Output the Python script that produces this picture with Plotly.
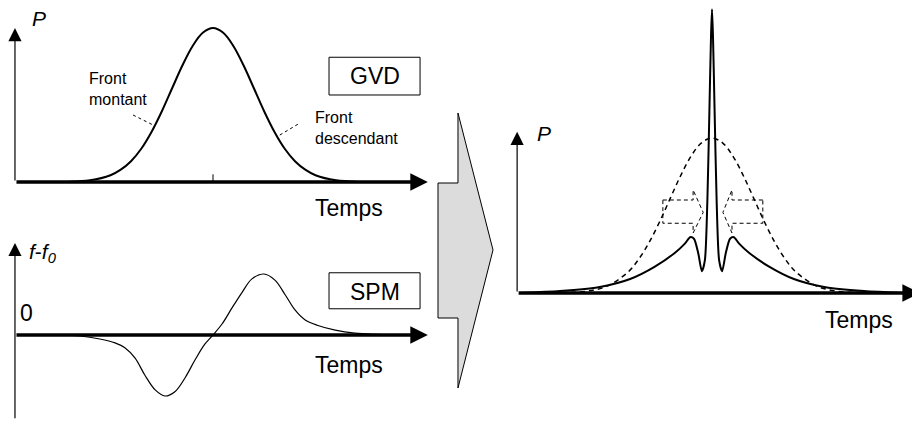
import plotly.graph_objects as go

# --- panel 1 : input pulse (P vs Temps) ---
t_pulse = [-3.5, -3.0, -2.5, -2.25, -2.0, -1.75, -1.5, -1.25, -1.0, -0.75, -0.5, -0.25, 0.0,
           0.25, 0.5, 0.75, 1.0, 1.25, 1.5, 1.75, 2.0, 2.25, 2.5, 3.0, 3.5]
p_pulse = [0.002, 0.011, 0.044, 0.080, 0.135, 0.216, 0.325, 0.458, 0.607, 0.755, 0.882, 0.969, 1.0,
           0.969, 0.882, 0.755, 0.607, 0.458, 0.325, 0.216, 0.135, 0.080, 0.044, 0.011, 0.002]

# --- panel 2 : SPM chirp (f - f0 vs Temps) ---
t_chirp = [-3.73, -3.24, -2.76, -2.39, -2.15, -1.90, -1.66, -1.41, -1.17, -0.93, -0.68, -0.44, -0.20, 0.0,
           0.22, 0.46, 0.71, 0.95, 1.24, 1.51, 1.76, 2.0, 2.24, 2.54, 2.98, 3.46, 4.0, 4.56]
f_chirp = [0.0, -0.016, -0.066, -0.13, -0.21, -0.38, -0.66, -0.90, -1.0, -0.93, -0.70, -0.41, -0.15, 0.0,
           0.18, 0.44, 0.70, 0.92, 1.0, 0.90, 0.66, 0.41, 0.25, 0.16, 0.08, 0.03, 0.01, 0.0]

# --- panel 3 : compressed pulse (solid) and original pulse (dashed) ---
t_orig = [-4.0, -3.5, -3.0, -2.5, -2.0, -1.75, -1.5, -1.25, -1.0, -0.75, -0.5, -0.25, 0.0,
          0.25, 0.5, 0.75, 1.0, 1.25, 1.5, 1.75, 2.0, 2.5, 3.0, 3.5, 4.0]
p_orig = [0.0003, 0.002, 0.011, 0.044, 0.135, 0.216, 0.325, 0.458, 0.607, 0.755, 0.882, 0.969, 1.0,
          0.969, 0.882, 0.755, 0.607, 0.458, 0.325, 0.216, 0.135, 0.044, 0.011, 0.002, 0.0003]

t_comp = [-4.57, -3.62, -2.67, -1.95, -1.36, -0.88, -0.64, -0.52, -0.43, -0.33, -0.24, -0.17, -0.11, -0.06, -0.024, 0.0,
          0.024, 0.06, 0.11, 0.17, 0.24, 0.33, 0.43, 0.52, 0.64, 0.88, 1.36, 1.95, 2.67, 3.62, 4.57]
p_comp = [0.0, 0.013, 0.039, 0.09, 0.17, 0.26, 0.32, 0.36, 0.35, 0.26, 0.14, 0.21, 0.6, 1.2, 1.65, 1.83,
          1.65, 1.2, 0.6, 0.21, 0.14, 0.26, 0.35, 0.36, 0.32, 0.26, 0.17, 0.09, 0.039, 0.013, 0.0]

# dashed "compression" arrows (t, P)
left_arrow_t = [-1.17, -0.45, -0.45, -0.21, -0.45, -0.45, -1.17, -1.17]
left_arrow_p = [0.60, 0.60, 0.665, 0.52, 0.387, 0.45, 0.45, 0.60]
right_arrow_t = [1.21, 0.476, 0.476, 0.26, 0.476, 0.476, 1.21, 1.21]
right_arrow_p = [0.60, 0.60, 0.665, 0.52, 0.387, 0.45, 0.45, 0.60]

# big grey arrow outline, in page pixels
big_arrow_px = [(438, 183), (458, 183), (458, 113), (493, 250), (458, 388), (458, 318), (438, 318)]

# the page body has an 8px margin, so the figure starts at (8, 8)
OFF = 8
W, H = 920 - OFF, 423 - OFF
FONT = "Liberation Sans, Arial, sans-serif"


def xr_(c, s):
    c = c - OFF
    return [-c / s, (W - c) / s]


def yr_(c, s):
    c = c - OFF
    return [(c - H) / s, c / s]


fig = go.Figure()

fig.add_trace(go.Scatter(x=t_pulse, y=p_pulse, mode="lines", line=dict(color="black", width=2, shape="spline"),
                         xaxis="x", yaxis="y"))
fig.add_trace(go.Scatter(x=t_chirp, y=f_chirp, mode="lines", line=dict(color="black", width=1.2, shape="spline"),
                         xaxis="x", yaxis="y2"))
fig.add_trace(go.Scatter(x=t_orig, y=p_orig, mode="lines",
                         line=dict(color="black", width=1.5, dash="5px,4px", shape="spline"),
                         xaxis="x3", yaxis="y3"))
fig.add_trace(go.Scatter(x=t_comp, y=p_comp, mode="lines",
                         line=dict(color="black", width=2, shape="spline", smoothing=0.7),
                         xaxis="x3", yaxis="y3"))
for xs, ys in [(left_arrow_t, left_arrow_p), (right_arrow_t, right_arrow_p)]:
    fig.add_trace(go.Scatter(x=xs, y=ys, mode="lines", line=dict(color="black", width=1, dash="4px,3px"),
                             xaxis="x3", yaxis="y3"))

shapes = []
path = "M " + " L ".join(f"{(x - OFF) / W:.4f},{1 - (y - OFF) / H:.4f}" for x, y in big_arrow_px) + " Z"
shapes.append(dict(type="path", xref="paper", yref="paper", path=path,
                   fillcolor="#dcdcdc", line=dict(color="black", width=1)))
# boxes
shapes.append(dict(type="rect", xref="x", yref="y", x0=2.83, x1=5.05, y0=0.565, y1=0.81,
                   line=dict(color="black", width=1)))
shapes.append(dict(type="rect", xref="x", yref="y2", x0=2.83, x1=5.05, y0=0.43, y1=1.02,
                   line=dict(color="black", width=1)))
# tick on first time axis
shapes.append(dict(type="line", xref="x", yref="y", x0=0, x1=0, y0=0, y1=0.05, line=dict(color="black", width=1)))
# dashed leaders
shapes.append(dict(type="line", xref="x", yref="y", x0=-1.95, y0=0.435, x1=-1.46, y1=0.37,
                   line=dict(color="black", width=1, dash="3px,3px")))
shapes.append(dict(type="line", xref="x", yref="y", x0=1.63, y0=0.305, x1=2.12, y1=0.383,
                   line=dict(color="black", width=1, dash="3px,3px")))

ann = []


def axis_arrow(xr, yr, x0, y0, x1, y1, w, size):
    ann.append(dict(xref=xr, yref=yr, axref=xr, ayref=yr, x=x1, y=y1, ax=x0, ay=y0, text="",
                    showarrow=True, arrowhead=2, arrowwidth=w, arrowsize=size, arrowcolor="black", standoff=0))


axis_arrow("x", "y", -4.83, 0, 5.24, 0, 3.5, 1.0)
axis_arrow("x", "y", -4.83, 0, -4.83, 1.0, 1.2, 2.2)
axis_arrow("x", "y2", -4.83, 0, 5.24, 0, 3.5, 1.0)
axis_arrow("x", "y2", -4.83, -1.39, -4.83, 1.51, 1.2, 2.2)
axis_arrow("x3", "y3", -4.64, 0, 4.95, 0, 3.5, 1.0)
axis_arrow("x3", "y3", -4.64, 0, -4.64, 1.04, 1.2, 2.2)


def label(xr, yr, x, y, text, size, xanchor="left", yanchor="middle"):
    ann.append(dict(xref=xr, yref=yr, x=x, y=y, text=text, showarrow=False, xanchor=xanchor, yanchor=yanchor,
                    align="left", font=dict(family=FONT, size=size, color="black")))


label("x", "y", -4.46, 1.06, "<i>P</i>", 21)
label("x", "y", 2.44, -0.169, "Temps", 23)
label("x", "y", 3.94, 0.69, "GVD", 23, xanchor="center")
label("x", "y", -3.07, 0.74, "Front<br>montant", 16, yanchor="top")
label("x", "y", 2.44, 0.49, "Front<br>descendant", 16, yanchor="top")
label("x", "y2", -4.54, 1.34, "<i>f</i>-<i>f</i><sub><i>0</i></sub>", 21)
label("x", "y2", -4.76, 0.36, "0", 23)
label("x", "y2", 2.44, -0.49, "Temps", 23)
label("x", "y2", 3.94, 0.705, "SPM", 23, xanchor="center")
label("x3", "y3", -4.21, 1.03, "<i>P</i>", 21)
label("x3", "y3", 2.64, -0.174, "Temps", 23)

hidden = dict(visible=False, fixedrange=True, domain=[0, 1])
fig.update_layout(
    width=W, height=H, margin=dict(l=0, r=0, t=0, b=0),
    paper_bgcolor="white", plot_bgcolor="white", showlegend=False,
    xaxis=dict(hidden, range=xr_(213, 41)),
    yaxis=dict(hidden, range=yr_(182, 154)),
    yaxis2=dict(hidden, range=yr_(335, 61), overlaying="y", anchor="x"),
    xaxis3=dict(hidden, range=xr_(712, 42), overlaying="x", anchor="y3"),
    yaxis3=dict(hidden, range=yr_(293, 155), overlaying="y", anchor="x3"),
    shapes=shapes, annotations=ann,
)

fig.write_html("out.html")
